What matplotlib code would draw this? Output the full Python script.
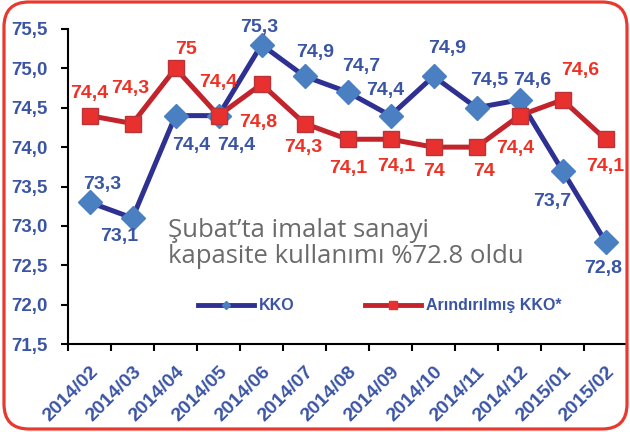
# KKO ve arındırılmış KKO grafiği
import numpy as np
import matplotlib
matplotlib.use("Agg")
from matplotlib import pyplot as plt
from matplotlib.patches import FancyBboxPatch
from matplotlib.transforms import IdentityTransform
from matplotlib.lines import Line2D

# veriler
aylar = ["2014/02", "2014/03", "2014/04", "2014/05", "2014/06", "2014/07", "2014/08",
         "2014/09", "2014/10", "2014/11", "2014/12", "2015/01", "2015/02"]
kko = [73.3, 73.1, 74.4, 74.4, 75.3, 74.9, 74.7, 74.4, 74.9, 74.5, 74.6, 73.7, 72.8]
arindirilmis = [74.4, 74.3, 75.0, 74.4, 74.8, 74.3, 74.1, 74.1, 74.0, 74.0, 74.4, 74.6, 74.1]
y_ticks = [71.5, 72.0, 72.5, 73.0, 73.5, 74.0, 74.5, 75.0, 75.5]

# etiket kaydırmaları (piksel)
kko_off = [(13, 18), (-13, -19), (16, -30), (18, -30), (-2, 17), (11, 24), (14, 25),
           (-5, 25), (14, 28), (13, 27), (13, 19), (-10, -31), (-2, -27)]
ar_off = [(0, 22), (-2, 35), (11, 19), (0, 33), (-3, -38), (-1, -24), (1, -29),
          (6, -27), (1, -24), (7, -24), (-4, -33), (18, 29), (0, -27)]

MAVI_YAZI = "#3b55a5"
KIRMIZI_YAZI = "#ee3124"
BOLD_FONT = ["Liberation Sans", "DejaVu Sans"]


def etiket(v):
    s = ("%.1f" % v).replace(".", ",")
    if s.endswith(",0"):
        s = s[:-2]
    return s


def main():
    fig = plt.figure(figsize=(6.3, 4.32), dpi=100)
    ax = fig.add_axes([68 / 630, 88 / 432, 559 / 630, 315 / 432])

    x = np.arange(len(aylar))
    ax.plot(x, kko, color="#2e3192", lw=3.6, marker="D", ms=12.5,
            mfc="#4a7fc1", mec="#4a7fc1", zorder=3)
    ax.plot(x, arindirilmis, color="#c3232b", lw=3.6, marker="s", ms=11.5,
            mfc="#e8312f", mec="#b8333a", mew=1, zorder=4)

    for i in range(len(aylar)):
        ax.annotate(etiket(kko[i]), (x[i], kko[i]), xytext=kko_off[i],
                    textcoords="offset pixels", ha="center", va="center",
                    color=MAVI_YAZI, fontsize=14, fontweight="bold",
                    family=BOLD_FONT, zorder=5)
        ax.annotate(etiket(arindirilmis[i]), (x[i], arindirilmis[i]), xytext=ar_off[i],
                    textcoords="offset pixels", ha="center", va="center",
                    color=KIRMIZI_YAZI, fontsize=14, fontweight="bold",
                    family=BOLD_FONT, zorder=5)

    ax.set_xlim(-0.5, len(aylar) - 0.5)
    ax.set_ylim(71.5, 75.5)

    # eksenler
    for s in ["top", "right"]:
        ax.spines[s].set_visible(False)
    for s in ["left", "bottom"]:
        ax.spines[s].set_linewidth(1.5)
        ax.spines[s].set_color("black")

    ax.set_xticks(np.arange(-0.5, len(aylar), 1.0))
    ax.set_xticklabels([])
    ax.set_xticks(x, minor=True)
    ax.set_xticklabels(aylar, minor=True, rotation=45, ha="right", va="top",
                       rotation_mode="anchor", color=MAVI_YAZI, fontsize=14,
                       fontweight="bold", family=BOLD_FONT)
    ax.tick_params(axis="x", which="major", length=5, width=1.5, direction="out")
    ax.tick_params(axis="x", which="minor", length=0, pad=14)

    ax.set_yticks(y_ticks)
    ax.set_yticklabels([("%.1f" % v).replace(".", ",") for v in y_ticks],
                       color=MAVI_YAZI, fontsize=13.5, fontweight="bold", family=BOLD_FONT)
    ax.tick_params(axis="y", length=5, width=1.5, direction="out", pad=10)

    # açıklama yazısı
    fig.text(168 / 630, 1 - 237 / 432, "Şubat’ta imalat sanayi", color="#6b6b6b",
             fontsize=18.5, family=["Open Sans", "DejaVu Sans"], va="baseline")
    fig.text(168 / 630, 1 - 263 / 432, "kapasite kullanımı %72.8 oldu", color="#6b6b6b",
             fontsize=18.5, family=["Open Sans", "DejaVu Sans"], va="baseline")

    # lejant
    h1 = Line2D([], [], color="#2e3192", lw=3.5, marker="D", ms=4,
                mfc="#4a7fc1", mec="#4a7fc1")
    h2 = Line2D([], [], color="#c3232b", lw=3.5, marker="s", ms=6,
                mfc="#e8312f", mec="#e8312f")
    leg = ax.legend([h1, h2], ["KKO", "Arındırılmış KKO*"], ncol=2, frameon=False,
                    loc="center", bbox_to_anchor=(0.558, 0.121), handlelength=3.5,
                    handletextpad=0.3, columnspacing=4.4,
                    prop={"family": BOLD_FONT, "weight": "bold", "size": 11.5})
    for t in leg.get_texts():
        t.set_color(MAVI_YAZI)

    # kırmızı çerçeve
    cerceve = FancyBboxPatch((4, 3), 623, 427, boxstyle="round,pad=0,rounding_size=25",
                             transform=IdentityTransform(), fill=False,
                             edgecolor="#e8392f", lw=2.3)
    fig.patches.append(cerceve)

    fig.savefig("out.png", dpi=100)


if __name__ == "__main__":
    main()
